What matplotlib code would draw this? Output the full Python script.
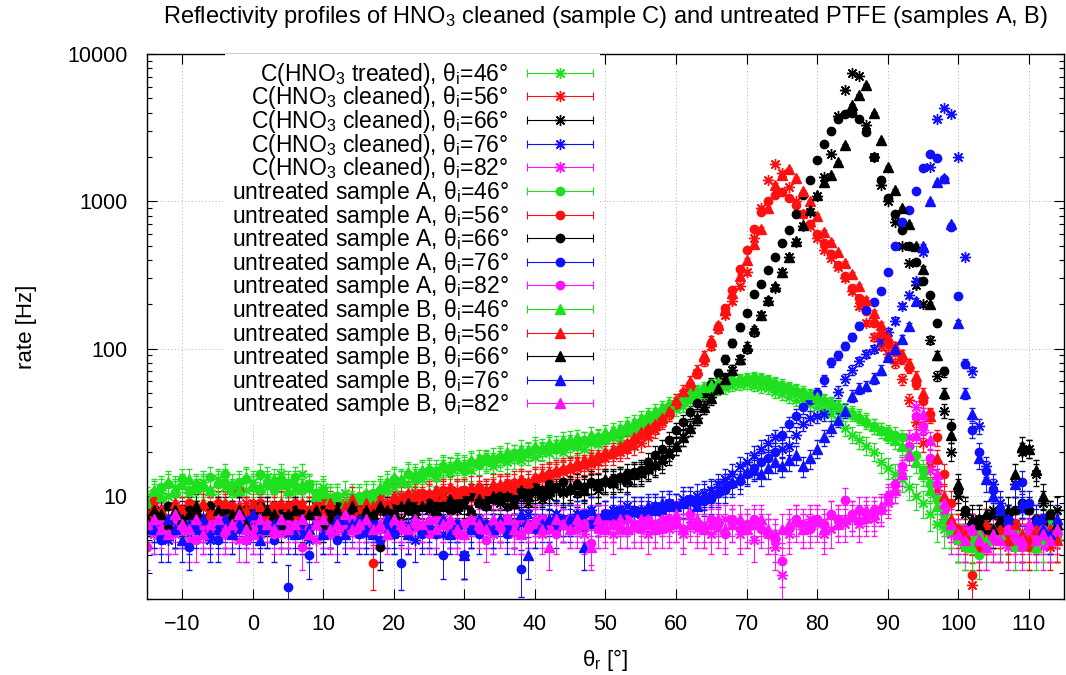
import numpy as np
import matplotlib
matplotlib.use("Agg")
import matplotlib.pyplot as plt
from matplotlib.container import ErrorbarContainer
from matplotlib.legend_handler import HandlerBase
from matplotlib.lines import Line2D
from matplotlib.ticker import LogLocator, NullFormatter

plt.rcParams["font.family"] = ["Liberation Sans", "DejaVu Sans"]
plt.rcParams["mathtext.fontset"] = "custom"
plt.rcParams["mathtext.rm"] = "Liberation Sans"
plt.rcParams["mathtext.it"] = "Liberation Sans:italic"
plt.rcParams["mathtext.default"] = "regular"

# reflection angle scan, 1 deg steps
THETA_R = np.arange(-15, 115)
# counting time per point [s], used for the Poisson error bars
MEAS_TIME = 2.5

# sample C, HNO3 cleaned
C46 = [9.5, 10.5, 11, 10, 11.5, 12, 10.5, 11, 12.5, 11,
       13, 11.5, 10.5, 12, 11, 12.5, 11, 13.5, 12, 14,
       12.5, 11, 14, 12, 10.5, 11.5, 10, 9.5, 10.5, 9,
       9.5, 10, 9, 10.5, 11, 11.5, 12.5, 12, 13.5, 13,
       14, 13.5, 15, 14.5, 15.5, 16, 15, 16.5, 17, 16,
       17.5, 17, 18, 17.5, 19, 18.5, 20, 19.5, 21, 20,
       21.5, 22, 21, 23, 22.5, 24, 25, 24, 27, 28,
       29, 31, 33, 34, 36, 39, 41, 44, 46, 49,
       51, 53, 54, 56, 57, 58, 56, 55, 54, 51,
       49, 47, 45, 44, 42, 40, 38, 36, 33, 29,
       26, 24, 22, 20, 17, 15.5, 14, 13, 11.5, 10,
       9, 7.5, 6.5, 6, 5.5, 5, 5.5, 4.5, 5, 5.5,
       6, 5, 5.5, 6, 5, 4.5, 6, 5.5, 5, 6]
C56 = [7, 8, 7.5, 6.5, 8.5, 7, 8, 7.5, 6.5, 8,
       7.5, 8.5, 7, 8, 9, 7.5, 8, 7, 8.5, 7.5,
       8, 7, 8.5, 7.5, 8, 9, 7.5, 8.5, 8, 7,
       8.5, 9, 8, 9.5, 8.5, 9, 10, 9.5, 10.5, 9,
       10, 9.5, 10.5, 10, 11, 10.5, 9.5, 10.5, 11, 10,
       11.5, 11, 12, 11.5, 12.5, 12, 13, 13.5, 14, 14.5,
       15, 15.5, 16, 16.5, 17, 18, 19, 20, 21, 22,
       23, 25, 28, 32, 36, 42, 49, 56, 68, 82,
       105, 135, 170, 210, 265, 330, 560, 900, 1400, 1800,
       1550, 1250, 1000, 820, 680, 560, 470, 410, 360, 300,
       245, 195, 150, 120, 105, 92, 80, 62, 45, 32,
       23, 16, 11, 8, 6.5, 5, 4.5, 2.5, 5, 5.5,
       5, 6, 5.5, 4.5, 5, 6, 5.5, 5, 4.5, 5]
C66 = [7.5, 6.5, 8, 7, 6, 7.5, 8.5, 7, 6.5, 8,
       7, 6, 7.5, 8, 6.5, 7, 8, 7.5, 6.5, 7,
       8, 7, 6.5, 7.5, 8.5, 7, 6, 7.5, 7, 8,
       7.5, 6.5, 7, 8, 7.5, 8.5, 7, 8, 7.5, 8.5,
       8, 7.5, 8.5, 9, 8, 8.5, 7.5, 9, 8.5, 9.5,
       9, 8.5, 9.5, 10, 9, 10.5, 9.5, 10, 11, 10.5,
       11, 10.5, 11.5, 12, 11, 12.5, 12, 13, 12.5, 14,
       14, 15, 16, 17, 19, 22, 25, 29, 34, 40,
       47, 55, 63, 72, 85, 100, 130, 170, 210, 260,
       330, 420, 530, 680, 850, 1080, 1470, 2100, 3800, 5700,
       7400, 7100, 3300, 2000, 1300, 1000, 720, 500, 380, 270,
       200, 115, 65, 38, 20, 10, 7.5, 6, 7, 6.5,
       8, 7, 6.5, 12, 20, 21, 14, 9, 7, 8]
C76 = [6, 5.5, 6.5, 5, 6, 7, 5.5, 6.5, 6, 5,
       6.5, 5.5, 6, 7, 5, 6.5, 5.5, 6, 7, 6,
       5.5, 6.5, 6, 5, 7, 6, 5.5, 6.5, 6, 7,
       6, 5.5, 6.5, 6, 7, 5.5, 6, 6.5, 5, 6.5,
       6, 7, 5.5, 6.5, 6, 4, 6.5, 7, 6, 5.5,
       6.5, 7, 6, 6.5, 7.5, 6, 7, 6.5, 7.5, 7,
       7, 7.5, 6.5, 8, 7, 7.5, 8, 7, 8.5, 7.5,
       8, 7.5, 8.5, 8, 9, 8.5, 9.5, 9, 10, 10.5,
       11, 12, 13, 14, 16, 17, 19, 21, 23, 25,
       21, 22, 26, 31, 34, 35, 36, 42, 51, 62,
       72, 82, 92, 100, 112, 130, 155, 195, 230, 290,
       450, 1700, 3600, 4300, 3900, 2000, 420, 70, 30, 16,
       12, 9, 7, 6.5, 8, 6, 5.5, 7, 6, 6.5]
C82 = [6, 5.5, 6.5, 7, 5.5, 6, 5, 6.5, 6, 7,
       5.5, 6, 6.5, 5, 6, 7, 5.5, 6, 6.5, 5.5,
       6, 7, 5.5, 6, 5, 6.5, 6, 5.5, 7, 6,
       5.5, 6.5, 6, 5, 6, 7, 6.5, 5.5, 6, 6.5,
       6, 5.5, 7, 6, 6.5, 5.5, 6, 7, 6.5, 5.5,
       6.5, 6, 5.5, 7, 6, 6.5, 5.5, 6, 7, 6.5,
       6, 6.5, 5.5, 7, 6, 6.5, 5.5, 6, 7, 6,
       6.5, 5.5, 6, 7, 6, 6.5, 5.5, 7, 6, 6.5,
       5.5, 6, 7, 6.5, 5.5, 6, 5, 6.5, 5.5, 4.5,
       2.9, 5.5, 6.5, 6, 7, 6.5, 5.5, 6, 7, 6.5,
       7, 6.5, 7.5, 7, 8, 9, 11, 15, 25, 40,
       28, 15, 10, 7, 5.5, 5, 6, 5.5, 4.5, 5,
       5.5, 5, 4.5, 5.5, 5, 6, 5, 4.5, 5.5, 5]

# untreated sample A
A46 = [8.5, 10, 11.5, 12, 10.5, 13, 11, 12, 11.5, 13.5,
       12, 14, 11, 12.5, 13, 11.5, 14, 12, 11, 13,
       12, 13.5, 11, 12, 10.5, 11, 9.5, 10, 9, 9.5,
       10, 9, 10.5, 11, 12, 13, 12.5, 14, 13, 14.5,
       15, 14, 16, 15.5, 16.5, 15, 17, 16.5, 18, 17,
       18.5, 18, 19.5, 19, 20, 21, 20.5, 22, 21, 22.5,
       23, 22, 24, 23.5, 25, 24, 26, 27, 29, 30,
       32, 34, 36, 38, 41, 43, 46, 48, 51, 53,
       55, 57, 58, 60, 61, 62, 63, 62, 60, 58,
       56, 54, 52, 50, 48, 46, 44, 42, 40, 38,
       36, 34, 32, 30, 28, 27, 26, 25, 22, 19,
       15, 12, 9.5, 7.5, 6, 5, 4.5, 5, 4, 5.5,
       5, 6, 5.5, 4.5, 5, 6, 5.5, 5, 6.5, 5]
A56 = [8, 9.3, 7.5, 8.5, 7, 8, 9, 7.5, 8.5, 8,
       9, 7.5, 8.5, 10.8, 8, 7.5, 9, 8, 8.5, 7,
       8.5, 9, 7.5, 8, 8.5, 9.5, 8, 7.5, 9, 8.5,
       8, 7.5, 3.5, 9, 8.5, 9.5, 9, 10, 9.5, 10.5,
       10, 10.5, 11, 9.5, 10.5, 11, 10, 11.5, 10.5, 11,
       11.5, 12, 11, 12.5, 12, 13, 13.5, 14, 14.5, 15,
       15.5, 16, 16.5, 17, 18, 19, 20, 21, 22.5, 24,
       26, 28, 30, 33, 37, 42, 48, 55, 68, 85,
       110, 140, 190, 250, 350, 470, 650, 850, 1000, 1100,
       1150, 1060, 950, 820, 700, 600, 520, 440, 370, 310,
       260, 220, 180, 150, 125, 108, 95, 85, 74, 58,
       44, 36, 25, 14, 9, 6, 5, 2.9, 4.5, 5.5,
       6, 5, 5.5, 6.5, 5, 4.5, 5.5, 6, 5, 5.5]
A66 = [8, 7, 7.5, 8.5, 7, 6.5, 8, 7.5, 7, 8.5,
       7.5, 8, 7, 6.5, 8, 7.5, 8.5, 7, 6.5, 7.5,
       7, 8, 7.5, 6, 7, 8, 7.5, 8.5, 7, 7.5,
       8, 7, 7.5, 4.5, 8, 7.5, 8.5, 8, 9, 8.5,
       9, 8.5, 9.5, 8, 9, 9.5, 10, 9, 10, 9.5,
       10, 10.5, 9.5, 11, 10.5, 11.5, 11, 12, 11.5, 12.5,
       11, 12, 11.5, 12.5, 12, 12.5, 13, 13.5, 14, 14.5,
       15, 17, 19, 21, 24, 28, 32, 37, 43, 50,
       58, 68, 85, 110, 140, 175, 235, 275, 340, 420,
       520, 640, 820, 1100, 1400, 1900, 2450, 3000, 3600, 3900,
       3950, 3600, 2950, 2000, 1400, 1050, 820, 640, 500, 390,
       290, 230, 150, 70, 30, 11, 8, 6.5, 7, 6,
       7.5, 6.5, 7, 8, 9, 8, 7, 6.5, 7.5, 6]
A76 = [6, 6.5, 5, 5.5, 7, 6, 4.5, 6.5, 5.5, 6,
       5, 6.5, 5.5, 6, 7, 5.5, 6, 6.5, 5, 6,
       2.4, 6, 5.5, 4, 6.5, 5.5, 6, 5, 6.5, 6,
       5.5, 6, 6.5, 5, 6, 5.5, 3.5, 6, 6.5, 5.5,
       6, 5.5, 4, 6, 6.5, 4, 6, 5.5, 6.5, 6,
       6.5, 5.5, 6, 3.2, 6.5, 6, 7, 6.5, 6, 7,
       6.5, 7, 7.5, 6.5, 7, 7.5, 7, 8, 7.5, 8,
       7.5, 8, 8.5, 8, 9, 8.5, 9, 9.5, 9, 9.3,
       9.5, 10.5, 11, 12, 12.6, 14, 15.5, 17, 18, 20,
       26, 31, 35, 40, 45, 50, 61, 81, 90, 105,
       120, 143, 182, 208, 247, 330, 500, 720, 880, 1170,
       1690, 2090, 1980, 1410, 665, 228, 79, 28, 20, 14.8,
       11, 8, 7, 6, 12.5, 9, 6.5, 7, 5.5, 6]
A82 = [4.5, 6, 7, 5.5, 6.5, 6, 7, 5, 6.5, 6,
       7, 5.5, 6, 6.5, 5, 6, 7, 6.5, 5.5, 6,
       6.5, 5.5, 4.5, 6, 7, 6, 5.5, 6.5, 6, 7,
       6, 6.5, 5.5, 6, 7, 6.5, 6, 5.5, 6.5, 6,
       5.5, 7, 6.5, 6, 5.5, 6.5, 7, 6, 5, 6.5,
       6, 7, 6.5, 5.5, 6, 6.5, 7, 6, 5.5, 6.5,
       7, 6, 6.5, 4.8, 6, 7, 6.5, 6, 7, 6.5,
       6, 7, 6.5, 6, 7, 6.5, 6, 7.5, 6.5, 6,
       7, 6.5, 5.5, 7, 6, 6.5, 7, 6, 5.5, 5,
       3.6, 6, 7, 6.5, 6, 7, 6.5, 7.5, 7, 9.4,
       7.5, 8, 7, 8, 8, 10, 12, 16, 22, 35,
       30, 18, 12, 8, 6, 5.5, 5, 6, 5.5, 4.5,
       5, 5.5, 6, 5, 4.5, 5.5, 5, 6, 5, 5.5]

# untreated sample B
B46 = [9, 11, 10, 12.5, 11, 12, 13, 11.5, 12, 11,
       12.5, 13, 12, 11, 13.5, 12, 11.5, 12.5, 13, 12,
       11, 12.5, 12, 11.5, 10, 10.5, 9.5, 10, 9, 10,
       9.5, 10.5, 10, 11.5, 12.5, 13.5, 13, 14.5, 14, 15,
       15.5, 15, 16.5, 16, 17, 16.5, 17.5, 18, 17.5, 18.5,
       19, 20, 19.5, 21, 20.5, 22, 21.5, 23, 22.5, 24,
       24.5, 25, 24, 26, 25.5, 27, 28, 29, 31, 32,
       34, 36, 38, 40, 43, 45, 48, 50, 52, 55,
       57, 59, 60, 61, 62, 63, 64, 63, 61, 59,
       57, 55, 53, 51, 49, 47, 45, 43, 41, 39,
       37, 35, 33, 30, 28, 26, 24, 22, 20, 17,
       14, 11, 8.5, 7, 6, 5.5, 5, 4.5, 5.5, 5,
       6, 5.5, 5, 6, 5.5, 5, 4.5, 6, 5.5, 6]
B56 = [7.5, 8.5, 8, 7, 9, 8, 7.5, 8.5, 9, 7.5,
       8, 9, 7.5, 8.5, 8, 9, 8.5, 7.5, 8, 9,
       8.5, 7.5, 9, 8, 8.5, 7.5, 9, 8, 8.5, 9.5,
       8, 9, 8.5, 9.5, 9, 10, 9.5, 10.5, 10, 9.5,
       10.5, 11, 10, 11.5, 10.5, 11, 11.5, 10.5, 11, 12,
       12, 11.5, 12.5, 13, 12.5, 13.5, 14, 14.5, 15, 15.5,
       16, 17, 17.5, 18, 19, 20, 21, 22, 23, 25,
       27, 29, 31, 34, 38, 45, 52, 60, 72, 90,
       115, 145, 185, 240, 310, 400, 510, 650, 900, 1300,
       1500, 1650, 1450, 1170, 1000, 800, 620, 530, 450, 380,
       320, 265, 215, 175, 145, 120, 105, 92, 80, 65,
       50, 35, 18, 10, 7, 6, 5.5, 6, 5, 6.5,
       5.5, 6, 5, 6.5, 5.5, 5, 6, 5.5, 6, 5]
B66 = [7, 8, 7.5, 6.5, 8, 7, 7.5, 8.5, 7, 6.5,
       8, 7, 7.5, 8, 6.5, 7.5, 7, 8, 7.5, 6.5,
       7.5, 8, 7, 7.5, 8, 6.5, 7, 8, 7.5, 8.5,
       7, 8, 7.5, 8.5, 8, 7.5, 8.5, 9, 8, 8.5,
       9, 8, 8.5, 9.5, 8.5, 9, 8, 9.5, 9, 10,
       9.5, 10, 9, 10.5, 10, 11, 10.5, 11, 11.5, 11,
       11.5, 12, 11, 12.5, 12, 13, 12.5, 13.5, 13, 14,
       14.5, 15.5, 16.5, 18, 20, 22, 25, 29, 34, 40,
       46, 54, 62, 72, 85, 105, 135, 170, 215, 265,
       330, 420, 540, 690, 870, 1100, 1350, 1500, 1850, 2400,
       4500, 5300, 6200, 4000, 2600, 1700, 1200, 900, 700, 500,
       350, 200, 90, 50, 26, 12, 8, 7, 6.5, 7.5,
       6, 7, 8, 14, 22, 21, 15, 10, 7.5, 6.5]
B76 = [6.5, 6, 5.5, 7, 6, 5, 6.5, 6, 7, 5.5,
       6, 7, 5.5, 6.5, 6, 7.5, 5, 6, 6.5, 7,
       6, 5.5, 7, 6, 6.5, 5.5, 6, 7, 5.5, 6.5,
       7, 6, 5.5, 6.5, 7, 6, 6.5, 5.5, 7, 6,
       6.5, 6, 7, 5.5, 6.5, 4, 6, 7, 6.5, 6,
       7, 6.5, 6, 7.5, 4, 7, 6.5, 7, 7.5, 6.5,
       7, 7.5, 4.5, 8, 7, 7.5, 8, 7.5, 6, 8,
       8, 8.5, 8, 9, 8.5, 8.5, 9, 9.5, 8.5, 10,
       10.5, 11, 12, 12.5, 13.5, 14.5, 15, 14, 15.5, 17,
       16, 17.5, 19, 16, 18, 21, 25, 29, 33, 38,
       48, 54, 56, 63, 72, 88, 100, 117, 142, 210,
       500, 1000, 1350, 1450, 700, 150, 50, 36, 18, 13,
       10, 8, 7, 12, 9, 6.5, 7, 6, 5.5, 7]
B82 = [6.5, 7, 6, 5.5, 7.5, 6.5, 6, 7, 5.5, 6.5,
       7, 6, 6.5, 7.5, 6, 5.5, 7, 6.5, 6, 7,
       6, 6.5, 7, 5.5, 6.5, 7, 6, 6.5, 7.5, 6,
       6.5, 7, 6, 6.5, 5.5, 7, 6.5, 6, 7, 6.5,
       7, 6, 6.5, 7, 6, 5.5, 7, 6.5, 6, 7,
       6.5, 7, 6, 5.5, 6.5, 7, 6, 4.5, 7, 6.5,
       6, 7, 6.5, 4.5, 7, 6, 6.5, 7, 6, 6.5,
       7, 6.5, 6, 7, 6.5, 7.5, 6, 6.5, 7, 6,
       6.5, 7, 6, 6.5, 7, 6, 6.5, 7, 6, 5.5,
       6, 6.5, 7, 6, 6.5, 7, 6, 7.5, 6.5, 7,
       7.5, 7, 8, 7.5, 8.5, 9.5, 11, 14, 19, 26,
       36, 24, 14, 9, 6.5, 5.5, 5, 6, 5, 4.5,
       5.5, 5, 6, 5.5, 5, 6.5, 5, 5.5, 5, 6]

GREEN, RED, BLACK, BLUE, MAGENTA = "#1fe01f", "#ff1010", "#000000", "#1010ff", "#ff10ff"
ASTERISK = (8, 2, 0)

series = [
    (C46, GREEN, ASTERISK, "C(HNO$_3$ treated), θ$_i$=46°"),
    (C56, RED, ASTERISK, "C(HNO$_3$ cleaned), θ$_i$=56°"),
    (C66, BLACK, ASTERISK, "C(HNO$_3$ cleaned), θ$_i$=66°"),
    (C76, BLUE, ASTERISK, "C(HNO$_3$ cleaned), θ$_i$=76°"),
    (C82, MAGENTA, ASTERISK, "C(HNO$_3$ cleaned), θ$_i$=82°"),
    (A46, GREEN, "o", "untreated sample A, θ$_i$=46°"),
    (A56, RED, "o", "untreated sample A, θ$_i$=56°"),
    (A66, BLACK, "o", "untreated sample A, θ$_i$=66°"),
    (A76, BLUE, "o", "untreated sample A, θ$_i$=76°"),
    (A82, MAGENTA, "o", "untreated sample A, θ$_i$=82°"),
    (B46, GREEN, "^", "untreated sample B, θ$_i$=46°"),
    (B56, RED, "^", "untreated sample B, θ$_i$=56°"),
    (B66, BLACK, "^", "untreated sample B, θ$_i$=66°"),
    (B76, BLUE, "^", "untreated sample B, θ$_i$=76°"),
    (B82, MAGENTA, "^", "untreated sample B, θ$_i$=82°"),
]
MARKER_SIZE = {ASTERISK: 8.0, "o": 6.0, "^": 6.5}
LEGEND_SIZE = 16.5


class KeyHandler(HandlerBase):
    """gnuplot-like key sample: |---marker---| in the series colour."""

    def create_artists(self, legend, orig_handle, xdescent, ydescent,
                       width, height, fontsize, trans):
        data_line = orig_handle[0]
        color = data_line.get_color()
        y = height / 2 - ydescent
        x0, x1 = -xdescent, -xdescent + width
        bar = Line2D([x0, x1], [y, y], color=color, lw=0.8, transform=trans)
        caps = Line2D([x0, x1], [y, y], ls="none", marker="|", ms=6,
                      mew=0.8, color=color, transform=trans)
        mark = Line2D([(x0 + x1) / 2], [y], ls="none",
                      marker=data_line.get_marker(),
                      ms=data_line.get_markersize(),
                      mew=data_line.get_markeredgewidth(),
                      color=color, transform=trans)
        return [bar, caps, mark]


fig = plt.figure(figsize=(10.66, 6.75), dpi=100)
ax = fig.add_axes([0.1379, 0.1126, 0.8602, 0.8074])

for values, color, marker, label in series:
    rate = np.asarray(values, dtype=float)
    err = np.sqrt(rate / MEAS_TIME)
    ax.errorbar(THETA_R, rate, yerr=err, ls="none", marker=marker,
                ms=MARKER_SIZE[marker], mew=1.0, color=color,
                elinewidth=0.7, capsize=2.5, capthick=0.7, label=label)

ax.set_yscale("log")
ax.set_xlim(-15, 115)
ax.set_ylim(2, 10000)
ax.set_xticks(np.arange(-10, 111, 10))
ax.set_yticks([10, 100, 1000, 10000])
ax.set_yticklabels(["10", "100", "1000", "10000"])
ax.yaxis.set_minor_locator(LogLocator(base=10, subs=np.arange(2, 10)))
ax.yaxis.set_minor_formatter(NullFormatter())
ax.tick_params(which="both", direction="in", top=True, right=True,
               labelsize=15.5, width=0.8)
ax.tick_params(which="major", length=7)
ax.tick_params(which="minor", length=3.5)
ax.tick_params(axis="x", which="major", pad=11)
ax.tick_params(axis="y", which="major", pad=14)
for spine in ax.spines.values():
    spine.set_linewidth(1.0)

ax.set_axisbelow(True)
ax.grid(True, which="major", color="#b0b0b0", ls=(0, (1, 2.5)), lw=0.7)

ax.set_ylabel("rate [Hz]", fontsize=16)
ax.yaxis.set_label_coords(-0.12, 0.5)
ax.set_xlabel("θ$_r$ [°]", fontsize=16)
ax.xaxis.set_label_coords(0.5, -0.088)

fig.text(0.568, 0.975,
         "Reflectivity profiles of HNO$_3$ cleaned (sample C) and untreated PTFE (samples A, B)",
         ha="center", va="center", fontsize=17)

ax.legend(loc="upper right", bbox_to_anchor=(0.494, 1.0), markerfirst=False,
          handler_map={ErrorbarContainer: KeyHandler()}, fontsize=LEGEND_SIZE,
          handlelength=2.9, handletextpad=0.8, labelspacing=-0.148,
          borderpad=0.3, borderaxespad=0, frameon=True, fancybox=False,
          framealpha=1, edgecolor="none", facecolor="white")

fig.savefig("out.png", dpi=100)
